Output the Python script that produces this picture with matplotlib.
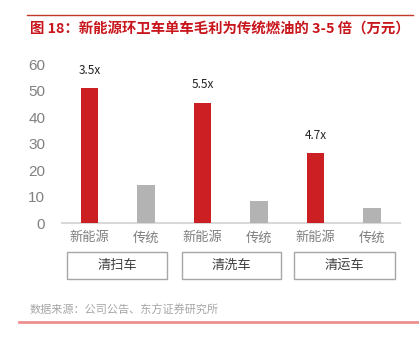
import matplotlib
matplotlib.use("Agg")
import matplotlib.pyplot as plt
from matplotlib.patches import Rectangle
from matplotlib.lines import Line2D

plt.rcParams['font.family'] = ['Noto Sans CJK SC', 'DejaVu Sans']

# 数据
groups = ['清扫车', '清洗车', '清运车']
sub_labels = ['新能源', '传统']
new_energy = [51, 45.5, 26.5]
traditional = [14.5, 8.3, 5.6]
multiples = ['3.5x', '5.5x', '4.7x']

fig = plt.figure(figsize=(4.19, 3.41), dpi=100)
ax = fig.add_axes([0.148, 0.346, 0.807, 0.466])

red = '#cc1f24'
grey = '#b3b3b3'
w = 0.31
for i in range(len(groups)):
    x_new = 2 * i
    x_old = 2 * i + 1
    ax.bar(x_new, new_energy[i], width=w, color=red, zorder=3)
    ax.bar(x_old, traditional[i], width=w, color=grey, zorder=3)
    ax.annotate(multiples[i], (x_new, new_energy[i]), xytext=(0, 8),
                textcoords='offset points', ha='center', va='bottom',
                fontsize=8.5, color='#222222')

ax.set_xlim(-0.49, 5.5)
ax.set_ylim(0, 60)
ax.set_yticks(range(0, 61, 10))
ax.tick_params(axis='y', length=0, pad=12, labelsize=10, labelcolor='#808080')
for t in ax.get_yticklabels():
    t.set_family(['Liberation Sans', 'DejaVu Sans'])
    t.set_fontsize(11)
ax.set_xticks(range(6))
ax.set_xticklabels(sub_labels * 3)
ax.tick_params(axis='x', length=0, pad=6, labelsize=9.5, labelcolor='#7f7f7f')
for s in ['top', 'right', 'left']:
    ax.spines[s].set_visible(False)
ax.spines['bottom'].set_color('#d9d9d9')
ax.spines['bottom'].set_linewidth(1.5)

# 分组框
W, H = 419, 341
boxes = [(67, 167), (182, 281), (294, 395)]
for (x0, x1), g in zip(boxes, groups):
    fig.patches.append(Rectangle((x0 / W, 1 - 279 / H), (x1 - x0) / W, 27 / H,
                                 transform=fig.transFigure, fill=False,
                                 edgecolor='#a6a6a6', linewidth=1))
    fig.text((x0 + x1) / 2 / W, 1 - 265.5 / H, g, ha='center', va='center',
             fontsize=9.5, color='#404040')

# 标题与来源
fig.lines.append(Line2D([27 / W, 413 / W], [1 - 15 / H, 1 - 15 / H],
                        transform=fig.transFigure, color='#c0392b', linewidth=1))
fig.text(30 / W, 1 - 30 / H, '图 18：新能源环卫车单车毛利为传统燃油的 3-5 倍（万元）',
         ha='left', va='center', fontsize=10.4, fontweight='bold', color='#c8161d')
fig.text(30 / W, 1 - 310 / H, '数据来源：公司公告、东方证券研究所',
         ha='left', va='center', fontsize=8, color='#a6a6a6')
fig.lines.append(Line2D([19 / W, 1.0], [1 - 322 / H, 1 - 322 / H],
                        transform=fig.transFigure, color='#ee8f8f', linewidth=2))

fig.savefig('out.png', dpi=100)
